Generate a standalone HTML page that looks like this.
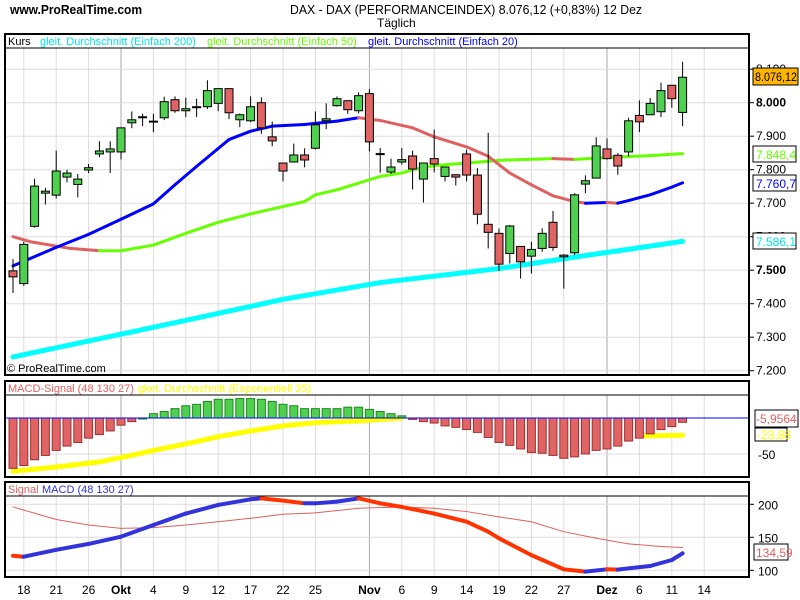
<!DOCTYPE html>
<html><head><meta charset="utf-8"><style>
body{margin:0;background:#fff;}
svg{display:block;font-family:"Liberation Sans",sans-serif;}
</style></head><body>
<svg id="c" width="800" height="600" xmlns="http://www.w3.org/2000/svg">
<rect width="800" height="600" fill="#fff"/>
<text x="10" y="14" font-size="13" font-weight="bold" textLength="132" lengthAdjust="spacingAndGlyphs">www.ProRealTime.com</text>
<text x="290" y="14" font-size="13" textLength="352" lengthAdjust="spacingAndGlyphs">DAX - DAX (PERFORMANCEINDEX)    8.076,12 (+0,83%)    12 Dez</text>
<text x="377" y="27" font-size="12">Täglich</text>
<g id="grid"></g>
<g id="marks"></g>
<g id="frames"></g>
<g id="labels"></g>
</svg>
<script>
const opens=[7498,7460,7631,7730,7724,7778,7756,7799,7847,7853,7853,7940,7957,7945,7955,8009,7976,7988,7988,7998,8042,7949,7946,8000,7898,7820,7823,7844,7864,7946,7991,8006,7976,8027,7848,7793,7823,7841,7772,7833,7780,7785,7847,7784,7637,7610,7550,7571,7542,7565,7643,7545,7552,7757,7775,7862,7843,7853,7962,7964,7973,8052,7971];
const highs=[7533,7585,7773,7746,7857,7800,7787,7817,7885,7885,7925,7974,7967,7967,8018,8019,8015,8012,8067,8042,8042,7968,8019,8016,7944,7820,7878,7864,7974,7998,8019,8006,8031,8040,7865,7833,7865,7857,7820,7920,7808,7785,7860,7805,7910,7625,7635,7571,7585,7625,7677,7548,7730,7783,7897,7893,7850,7955,8007,8014,8060,8052,8122];
const lows=[7432,7453,7627,7696,7714,7762,7717,7790,7837,7790,7831,7924,7930,7912,7948,7970,7957,7957,7981,7975,7951,7927,7942,7907,7870,7765,7823,7807,7860,7921,7988,7967,7968,7855,7791,7787,7815,7741,7702,7792,7765,7753,7765,7637,7565,7498,7520,7475,7490,7555,7558,7445,7545,7730,7775,7830,7785,7840,7912,7964,7957,7985,7930];
const closes=[7480,7577,7751,7736,7796,7790,7772,7806,7856,7862,7925,7949,7958,7944,8003,7976,7982,7988,8036,8042,7970,7964,7988,7925,7886,7796,7844,7829,7934,7952,8012,7979,8021,7883,7848,7808,7830,7802,7820,7817,7808,7778,7784,7667,7613,7518,7632,7525,7562,7610,7568,7540,7725,7767,7871,7833,7811,7946,7943,7998,8036,8012,8076];
const sma200Idx=[0,10,17,25,34,45,52,62];
const sma200Val=[7241,7309,7357,7413,7463,7505,7539,7586];
const sma50Idx=[0,1.6,5.3,8,10,13,16,19,22,25,27,28,30,33,34,36,37,39,42,45,50,52,56,59,62];
const sma50Val=[7600,7585,7565,7558,7558,7575,7610,7643,7668,7690,7705,7725,7740,7770,7780,7790,7800,7812,7820,7828,7833,7831,7838,7842,7848];
const sma20Idx=[0,4,7,10,13,15,17,20,22,24,27,30,32,34,37,39,42,44,46,48,50,52,53,55,56,57,59,61,62];
const sma20Val=[7513,7568,7607,7652,7698,7755,7810,7890,7915,7930,7935,7945,7955,7947,7925,7898,7868,7840,7790,7755,7722,7705,7700,7702,7700,7708,7725,7748,7761];
const histVals=[-70,-66,-58,-52,-45,-39,-34,-28,-23,-18,-10,-5,0,6,9,13,17,19,23,26,26,27,27,26,23,19,17,13,13,13,13,15,15,12,9,6,3,-2,-5,-7,-11,-13,-16,-20,-27,-34,-38,-43,-48,-49,-52,-56,-54,-50,-45,-43,-39,-32,-28,-22,-16,-12,-6];
const emaIdx=[0,4,8,10,13,16,19,22,25,28,32,35,36,45,52,58,62];
const emaVal=[-74,-68,-61,-55,-45,-36,-26,-18,-11,-6.5,-4,-1,0,-10,-20,-25,-24];
const macdIdx=[0,1,4,7,10,13,16,19,22,23,25,27,28,30,32,34,36,39,42,44,45,48,51,53,55,56,57,59,61,62];
const macdVal=[122,120.6,131,140,151,168.6,186,199,207.6,209,205.5,201.5,201.5,204,209,201.5,196,186,173.6,158.5,148.5,123,101.5,98,101.5,101,103,106.5,115.6,125.8];
const sigIdx=[0,4,7,10,13,16,19,22,25,28,32,36,39,42,45,48,51,54,57,60,62];
const sigVal=[196,177,168.6,163.6,164.6,168.6,173.6,178.8,185,187,194,196,194,189,181,173.6,158.5,148.5,140,136,134.6];
const priceTicks=[8100,8000,7900,7800,7700,7600,7500,7400,7300,7200];
const priceTickLabels=["8.100","8.000","7.900","7.800","7.700","7.600","7.500","7.400","7.300","7.200"];
const dateLabels=["18","21","26","Okt","4","9","12","17","22","25","Nov","6","9","14","19","22","27","Dez","6","11","14"];
const dateIdxAll=[1,4,7,10,13,16,19,22,25,28,33,36,39,42,45,48,51,55,58,61,64];

const NS="http://www.w3.org/2000/svg";
const X=i=>13+10.8*i;
const YP=p=>102.7+(8000-p)*0.335;
const YM=v=>418-v*0.72;
const YS=v=>504.3+(200-v)*0.66;
function mk(parent,tag,attrs){const e=document.createElementNS(NS,tag);for(const k in attrs)e.setAttribute(k,attrs[k]);document.getElementById(parent).appendChild(e);return e;}

const panels=[[48,374],[395,476],[496,576]];
dateIdxAll.forEach((d,k)=>{
  const lab=dateLabels[k];const month=(lab==="Okt"||lab==="Nov"||lab==="Dez");
  panels.forEach(p=>{
    const l=mk('grid','line',{x1:X(d),x2:X(d),y1:p[0],y2:p[1],stroke:month?'#aaa':'#ddd','stroke-width':1});
    
    
  });
  const t=mk('labels','text',{x:X(d),y:594,'font-size':12,'text-anchor':'middle','font-weight':month?'bold':'normal'});
  t.textContent=lab;
  
  
});
priceTicks.forEach((p,k)=>{
  const l=mk('grid','line',{x1:5,x2:749,y1:YP(p),y2:YP(p),stroke:'#ddd','stroke-width':1});
  
  
  mk('labels','line',{x1:749,x2:754,y1:YP(p),y2:YP(p),stroke:'#000'});
  const b=(priceTickLabels[k]==="8.000"||priceTickLabels[k]==="7.500");
  const t=mk('labels','text',{x:756,y:YP(p)+4,'font-size':12,'font-weight':b?'bold':'normal'});
  t.textContent=priceTickLabels[k];
  
  
});
[-50].forEach(v=>{mk('grid','line',{x1:5,x2:749,y1:YM(v),y2:YM(v),stroke:'#ddd'});
  const t=mk('labels','text',{x:758,y:YM(v)+5,'font-size':12});t.textContent=String(v);
  
  });
[200,150,100].forEach(v=>{mk('grid','line',{x1:5,x2:749,y1:YS(v),y2:YS(v),stroke:'#ddd'});
  mk('labels','line',{x1:749,x2:754,y1:YS(v),y2:YS(v),stroke:'#000'});
  const t=mk('labels','text',{x:758,y:YS(v)+5,'font-size':12});t.textContent=String(v);
  
  });

function line(idx,val,yf,w,up,down,name,skip){
  for(let k=0;k<idx.length-1;k++){
    if(skip&&skip(idx[k],idx[k+1]))continue;
    const c=val[k+1]>=val[k]?up:down;
    const l=mk('marks','line',{x1:X(idx[k]),y1:yf(val[k]),x2:X(idx[k+1]),y2:yf(val[k+1]),stroke:c,'stroke-width':w,'stroke-linecap':'round'});
    
    
  }
}
line(sma200Idx,sma200Val,YP,5,'#00ffff','#00ffff','sma200-line');
line(sma50Idx,sma50Val,YP,3,'#66ff00','#e06060','sma50-line');
line(sma20Idx,sma20Val,YP,3,'#0000ff','#e06060','sma20-line');
opens.forEach((o,i)=>{
  const c=closes[i],x=X(i);
  const w=mk('marks','line',{x1:x,x2:x,y1:YP(highs[i]),y2:YP(lows[i]),stroke:'#000','stroke-width':1});
  
  
  const top=YP(Math.max(o,c)),h=Math.max(1,YP(Math.min(o,c))-top);
  const r=mk('marks','rect',{x:x-4,y:top,width:8,height:h,fill:c>o?'#50d050':(c<o?'#e06464':'#000'),stroke:'#000','stroke-width':1});
  
  
});
line(emaIdx,emaVal,YM,5,'#ffff00','#ffff00','ema35-line',(a,b)=>a>=36&&b<=58);
histVals.forEach((v,i)=>{
  const y0=YM(0),y1=YM(v);
  const r=mk('marks','rect',{x:X(i)-4,y:Math.min(y0,y1),width:8,height:Math.max(1,Math.abs(y1-y0)),fill:v>=0?'#50d050':'#e06464',stroke:v>=0?'#1a8a1a':'#a03030','stroke-width':1});
  
  
});
mk('marks','line',{x1:5,x2:749,y1:YM(0),y2:YM(0),stroke:'#0000ff','stroke-width':1});
line(sigIdx,sigVal,YS,1,'#e06060','#e06060','signal-line');
line(macdIdx,macdVal,YS,4,'#3333dd','#ff3300','macd-line');
</script>
<svg style="position:absolute;left:0;top:0" width="800" height="600" xmlns="http://www.w3.org/2000/svg" font-family="Liberation Sans, sans-serif">
<rect x="5" y="34" width="744" height="341" fill="none" stroke="#000" stroke-width="2"/>
<line x1="5" y1="48" x2="749" y2="48" stroke="#000"/>
<rect x="6" y="35" width="742" height="12" fill="#fff"/>
<text x="8" y="45" font-size="11">Kurs</text>
<text x="40" y="45" font-size="11" fill="#00e5e5">gleit. Durchschnitt (Einfach 200)</text>
<text x="207" y="45" font-size="11" fill="#66ff00">gleit. Durchschnitt (Einfach 50)</text>
<text x="368" y="45" font-size="11" fill="#0000ff">gleit. Durchschnitt (Einfach 20)</text>
<text x="7" y="372" font-size="11">© ProRealTime.com</text>
<rect x="5" y="381" width="744" height="96" fill="none" stroke="#000" stroke-width="2"/>
<line x1="5" y1="395" x2="749" y2="395" stroke="#000"/>
<rect x="6" y="382" width="742" height="12" fill="#fff"/>
<text x="8" y="392" font-size="11" fill="#e06060">MACD-Signal (48 130 27)</text>
<text x="138" y="392" font-size="11" fill="#ffff00">gleit. Durchschnitt (Exponentiell 35)</text>
<rect x="5" y="482" width="744" height="95" fill="none" stroke="#000" stroke-width="2"/>
<line x1="5" y1="496" x2="749" y2="496" stroke="#000"/>
<rect x="6" y="483" width="742" height="12" fill="#fff"/>
<text x="8" y="493" font-size="11" fill="#e06060">Signal</text>
<text x="42" y="493" font-size="11" fill="#3333dd">MACD (48 130 27)</text>
<rect x="753" y="68" width="45" height="17" fill="#ffb400" stroke="#000"/>
<text x="755" y="81" font-size="12" textLength="42" lengthAdjust="spacingAndGlyphs">8.076,12</text>
<rect x="753" y="146" width="43" height="16" fill="#fff" stroke="#000"/>
<text x="756" y="159" font-size="12" fill="#66ff00">7.848,4</text>
<rect x="753" y="175" width="43" height="16" fill="#fff" stroke="#000"/>
<text x="756" y="188" font-size="12" fill="#0000ff">7.760,7</text>
<rect x="753" y="233" width="43" height="16" fill="#fff" stroke="#000"/>
<text x="756" y="246" font-size="12" fill="#00e5e5">7.586,1</text>
<rect x="755" y="410" width="43" height="17" fill="#fff" stroke="#000"/>
<text x="756" y="423" font-size="12" fill="#e06060">-5,9564</text>
<rect x="755" y="428" width="32" height="13" fill="#fff" stroke="#000"/>
<text x="757" y="439" font-size="12" fill="#ffff00">-23,88</text>
<rect x="754" y="544" width="34" height="16" fill="#fff" stroke="#000"/>
<text x="756" y="557" font-size="12" fill="#e06060">134,59</text>
</svg>
</body></html>
